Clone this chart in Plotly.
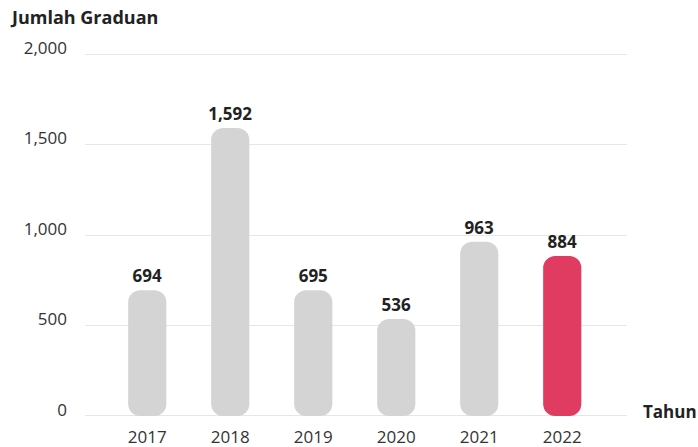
import plotly.graph_objects as go

years = ["2017", "2018", "2019", "2020", "2021", "2022"]
graduates = [694, 1592, 695, 536, 963, 884]
y_ticks = [0, 500, 1000, 1500, 2000]
y_tick_labels = ["0", "500", "1,000", "1,500", "2,000"]

GRAY = "#d4d4d4"
RED = "#e03c62"
colors = [GRAY] * 5 + [RED]
FONT = "Open Sans"

W, H = 698, 447
L, R, T, B = 85, 71, 53, 30

fig = go.Figure()
fig.add_trace(go.Bar(
    x=years, y=graduates, base=[0] * len(graduates),
    marker=dict(color=colors, line=dict(width=0), cornerradius=12),
    width=0.46,
    text=[f"{v:,}" for v in graduates], textposition="outside",
    constraintext="none",
    textfont=dict(family=FONT, size=17, color="#222222", weight="bold"),
    cliponaxis=False, hoverinfo="skip",
))

fig.update_layout(
    width=W, height=H,
    margin=dict(l=L, r=R, t=T, b=B, autoexpand=False),
    paper_bgcolor="white", plot_bgcolor="white",
    showlegend=False,
    font=dict(family=FONT, color="#333333"),
    xaxis=dict(
        type="category", range=[-0.75, 5.78], automargin=False,
        showgrid=False, zeroline=False, showline=False,
        ticks="", ticklabelstandoff=8,
        tickfont=dict(size=17, color="#333333"),
    ),
    yaxis=dict(
        range=[-6, 2006], tickvals=y_ticks, ticktext=y_tick_labels,
        automargin=False,
        showgrid=True, gridcolor="#e6e6e6", gridwidth=1,
        zeroline=True, zerolinecolor="#e6e6e6", zerolinewidth=1,
        showline=False, ticks="",
        ticklabelstandoff=17, ticklabelshift=-6,
        tickfont=dict(size=17, color="#333333"),
    ),
    annotations=[
        dict(text="<b>Jumlah Graduan</b>", xref="paper", yref="paper",
             x=(8 - L) / (W - L - R), y=1.0, yshift=36, xanchor="left", yanchor="middle",
             showarrow=False, font=dict(family=FONT, size=18, color="#222222")),
        dict(text="<b>Tahun</b>", xref="paper", yref="paper",
             x=1.0, y=0.0, xshift=14, yshift=6, xanchor="left", yanchor="middle",
             showarrow=False, font=dict(family=FONT, size=17, color="#222222")),
    ],
)

fig.write_html(
    "out.html",
    config={"displayModeBar": False},
    post_script="document.body.style.margin='0';document.body.style.overflow='hidden';",
)
